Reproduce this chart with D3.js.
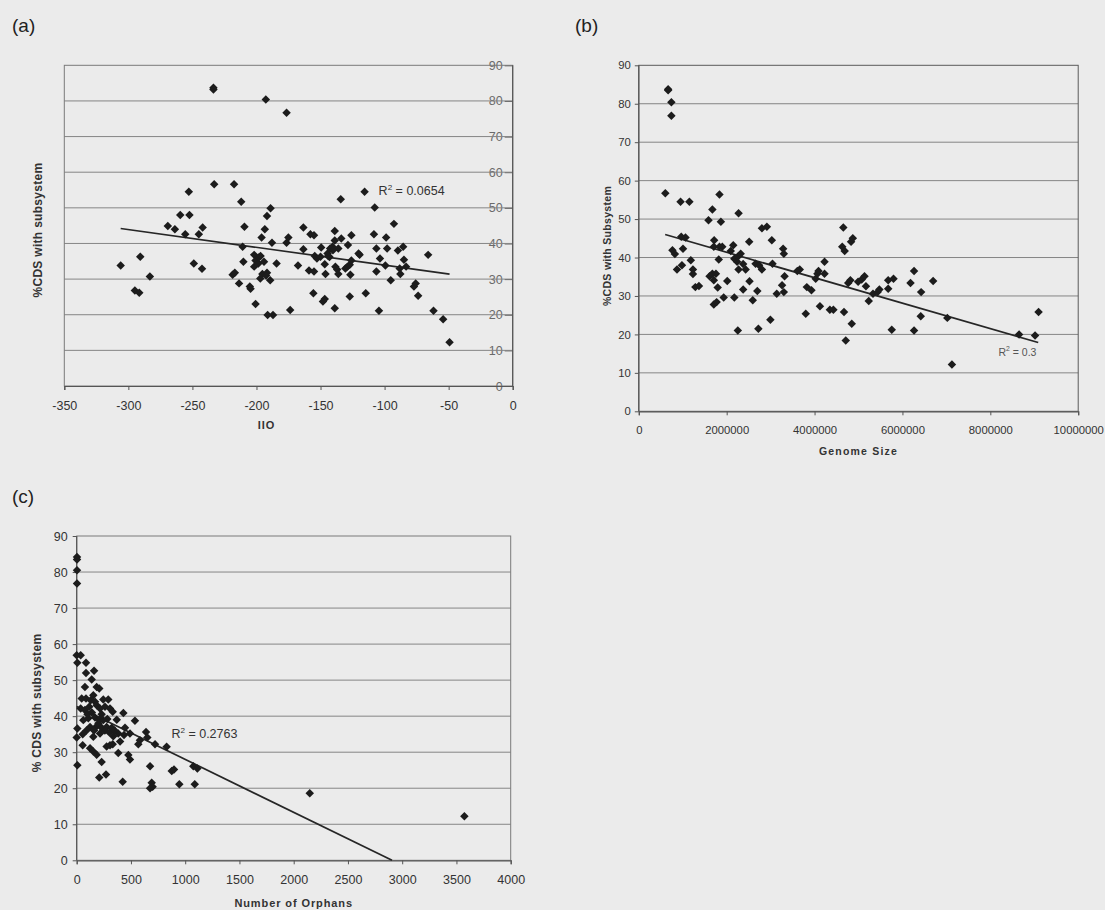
<!DOCTYPE html>
<html>
<head>
<meta charset="utf-8">
<script src="https://cdn.jsdelivr.net/npm/d3@7"></script>
<style>
  html, body { margin: 0; padding: 0; background: #ebebeb; }
  svg { display: block; font-family: "Liberation Sans", Arial, sans-serif; }
  .tick text { fill: #333; }
  .domain { stroke: #555; }
  .tick line { stroke: #555; }
</style>
</head>
<body>
<svg id="fig" width="1105" height="910"></svg>
<script>
// ---- Panel (a): IIO vs %CDS with subsystem ----
const iioX = [-306, -294.9, -291.5, -290.7, -283.2, -269.2, -263.7, -259.5, -255.6, -252.3,
  -252.8, -248.9, -245, -242.5, -242, -233.6, -233.6, -233, -218.6, -216.9,
  -217.5, -211.9, -213.6, -210.8, -210.2, -209.4, -205.2, -204.6, -200.7, -201.8,
  -200.7, -201.8, -198.5, -198, -196.8, -196, -195.4, -193.5, -194.1, -192.7,
  -191.8, -191.8, -191.3, -189, -189.3, -187.9, -187.1, -184.3, -176.5, -176.5,
  -175.1, -173.7, -167.6, -163.4, -163.4, -159, -157.9, -155.6, -155.1, -155.1,
  -154.5, -152.8, -149.5, -148.1, -146.7, -146.7, -146.1, -144.5, -142.5, -140.6,
  -138.9, -138.9, -138.9, -138.4, -137, -136.1, -136.1, -134.2, -130.6, -128.6,
  -127.2, -127.2, -126.7, -125.9, -125.9, -120.3, -119.5, -115.6, -114.7, -108.3,
  -107.7, -106.4, -106.4, -104.4, -103.6, -98.8, -99.4, -98, -95.2, -92.7,
  -89.6, -88.2, -87.7, -85.5, -84.9, -83.2, -77.1, -75.7, -73.8, -66,
  -61.8, -54.3, -49.3, -140.3, -133.8, -129, -143, -150, -144, -197, -192.5];
const iioCds = [33.8, 26.8, 26.2, 36.3, 30.7, 44.9, 44.0, 48.0, 42.6, 48.0,
  54.5, 34.4, 42.6, 32.9, 44.5, 83.7, 83.2, 56.6, 31.2, 31.8,
  56.6, 51.7, 28.8, 39.1, 34.9, 44.7, 27.9, 27.3, 23.0, 36.8,
  35.2, 33.5, 34.4, 36.1, 36.5, 41.7, 31.4, 44.0, 34.9, 80.4,
  47.7, 31.8, 19.9, 49.9, 29.7, 40.2, 19.9, 34.4, 76.7, 40.2,
  41.7, 21.3, 33.8, 44.5, 38.4, 32.4, 42.6, 26.0, 32.1, 42.3,
  36.5, 35.8, 38.9, 23.7, 24.4, 34.2, 31.4, 37.2, 38.6, 39.1,
  43.5, 40.8, 21.8, 33.5, 32.7, 31.4, 38.6, 52.4, 33.0, 39.6,
  25.1, 34.0, 31.2, 42.3, 35.2, 37.2, 36.8, 54.5, 26.0, 42.6,
  50.1, 38.6, 32.1, 21.1, 35.8, 41.7, 33.8, 38.6, 29.7, 45.5,
  38.0, 33.0, 31.4, 39.1, 35.4, 33.5, 27.9, 28.8, 25.3, 36.8,
  21.1, 18.7, 12.3, 38.1, 41.4, 33.5, 36.2, 36.3, 36.5, 30.2, 31.0];
const iioTicks = [-350, -300, -250, -200, -150, -100, -50, 0];
const iioTrend = { x: [-306, -49.3], y: [44.2, 31.4] };
const iioR2 = "0.0654";

// ---- Panel (b): genome size vs %CDS with subsystem ----
const genomeSize = [668000, 668000, 741000, 741000, 604000, 950000, 1151000, 966000, 1063000, 765000,
  821000, 870000, 1006000, 982000, 1184000, 1232000, 1232000, 1288000, 1369000, 1586000,
  1675000, 1715000, 1707000, 1610000, 1675000, 1707000, 1755000, 1795000, 1707000, 1771000,
  1836000, 1868000, 1836000, 1900000, 1820000, 1932000, 2013000, 2093000, 2150000, 2174000,
  2174000, 2238000, 2254000, 2271000, 2271000, 2254000, 2319000, 2375000, 2375000, 2432000,
  2512000, 2520000, 2593000, 2657000, 2697000, 2738000, 2721000, 2802000, 2802000, 2915000,
  2995000, 3027000, 3043000, 3140000, 3261000, 3285000, 3301000, 3301000, 3317000, 3607000,
  3663000, 3800000, 3824000, 3929000, 4026000, 4066000, 4090000, 4122000, 4227000, 4227000,
  4348000, 4428000, 4654000, 4630000, 4686000, 4670000, 4710000, 4766000, 4815000, 4831000,
  4871000, 4847000, 4992000, 5072000, 5137000, 5169000, 5233000, 5330000, 5435000, 5475000,
  5676000, 5676000, 5797000, 5757000, 6184000, 6264000, 6264000, 6417000, 6425000, 6699000,
  7021000, 7126000, 8655000, 9018000, 9098000];
const genomeCds = [83.8, 83.5, 80.4, 76.9, 56.7, 54.5, 54.5, 45.4, 45.2, 41.9,
  40.9, 36.9, 42.3, 38.0, 39.3, 36.9, 35.7, 32.3, 32.6, 49.7,
  52.5, 44.5, 42.8, 35.1, 35.8, 34.1, 35.8, 32.2, 27.8, 28.4,
  56.4, 49.3, 42.8, 42.8, 39.5, 29.6, 33.9, 41.7, 43.2, 39.7,
  29.6, 38.9, 40.2, 51.5, 36.9, 21.0, 41.0, 38.3, 31.7, 36.9,
  44.1, 33.8, 28.9, 38.4, 31.3, 38.0, 21.5, 36.9, 47.6, 48.0,
  23.8, 44.5, 38.4, 30.6, 32.8, 42.3, 41.0, 31.0, 35.1, 36.5,
  36.9, 25.4, 32.3, 31.5, 34.5, 35.8, 36.5, 27.3, 35.8, 38.9,
  26.4, 26.4, 47.8, 42.8, 41.7, 25.8, 18.4, 33.4, 34.1, 44.1,
  45.0, 22.8, 33.7, 34.3, 35.1, 32.5, 28.7, 30.6, 31.0, 31.7,
  34.1, 31.9, 34.5, 21.2, 33.4, 36.5, 21.0, 24.7, 31.0, 33.9,
  24.3, 12.2, 20.0, 19.7, 25.8];
const genomeTicks = [0, 2000000, 4000000, 6000000, 8000000, 10000000];
const genomeTrend = { x: [600000, 9090000], y: [46.0, 17.9] };
const genomeR2 = "0.3";

// ---- Panel (c): number of orphans vs %CDS with subsystem ----
const orphans = [3, 3, 3, 3,
  0, 37, 6, 86, 86, 160, 138, 76, 184, 208,
  46, 86, 153, 129, 169, 245, 291,
  37, 76, 116, 184, 215, 261, 307, 332, 430,
  61, 107, 169, 208, 245, 282, 369, 537,
  6, 123, 184, 230, 276, 323, 445,
  0, 55, 153, 215, 337, 383, 436, 491, 639, 651,
  583, 568, 722, 829,
  55, 123, 153, 184, 276, 307, 332, 383, 476, 491,
  230, 6, 676, 876, 897, 1075, 1112,
  270, 208, 424, 691, 700, 676, 946, 1088,
  100, 140, 200, 230, 260, 300, 350, 400, 160, 90,
  2148, 3573];
const orphanCds = [84.2, 83.5, 80.5, 76.8,
  56.9, 56.9, 54.8, 54.8, 52.0, 52.6, 50.2, 48.1, 48.1, 47.7,
  44.9, 44.9, 45.8, 44.4, 44.0, 44.6, 44.6,
  42.1, 41.7, 42.6, 43.0, 42.1, 42.6, 42.1, 41.2, 40.9,
  38.9, 39.4, 39.6, 39.0, 38.9, 39.2, 39.0, 38.7,
  36.6, 37.0, 37.2, 36.8, 37.0, 36.8, 36.8,
  34.1, 35.0, 34.3, 35.2, 34.4, 35.2, 34.8, 35.2, 35.6, 34.1,
  33.3, 32.2, 32.2, 31.5,
  31.9, 31.1, 30.2, 29.3, 31.6, 31.9, 32.2, 29.8, 29.2, 28.0,
  27.3, 26.4, 26.1, 24.8, 25.2, 26.1, 25.5,
  23.8, 23.0, 21.8, 21.5, 20.4, 20.0, 21.1, 21.1,
  40.5, 41.0, 38.0, 40.5, 36.0, 35.5, 36.0, 33.0, 36.0, 36.0,
  18.6, 12.2];
const orphanTicks = [0, 500, 1000, 1500, 2000, 2500, 3000, 3500, 4000];
const orphanTrend = { x: [0, 2906], y: [42.7, 0] };
const orphanR2 = "0.2763";

const cdsTicks = [0, 10, 20, 30, 40, 50, 60, 70, 80, 90];

const svg = d3.select("#fig");
const FONT = '"Liberation Sans", Arial, sans-serif';
const diamond = d3.symbol().type(d3.symbolSquare).size(36);
const plainNumber = d => String(d);   // keeps the ASCII hyphen for negatives

function drawPanel(cfg) {
  const g = svg.append("g");
  const x = d3.scaleLinear().domain(cfg.xDomain).range([cfg.left, cfg.right]);
  const y = d3.scaleLinear().domain([0, 90]).range([cfg.bottom, cfg.top]);

  // y axis sits where x = 0 (left edge, or right edge when all x are negative)
  const yAxisX = x(Math.max(cfg.xDomain[0], Math.min(0, cfg.xDomain[1])));
  const yAxis = d3.axisLeft(y).tickValues(cdsTicks).tickSize(cfg.yTick).tickPadding(cfg.yPad)
    .tickFormat(plainNumber);

  const drawYAxis = () => {
    const ya = g.append("g").attr("transform", `translate(${yAxisX},0)`).call(yAxis);
    ya.selectAll("text").attr("font-size", cfg.tickFont).attr("font-family", FONT)
      .style("fill", cfg.yLabelColor);
    ya.select(".domain").remove();
    ya.selectAll(".tick line").style("stroke", cfg.axisColor);
  };

  if (cfg.labelsUnderGrid) drawYAxis();

  // horizontal gridlines
  g.append("g").selectAll("line")
    .data(cdsTicks.filter(v => v > 0 && v < 90))
    .join("line")
    .attr("x1", cfg.left).attr("x2", cfg.right)
    .attr("y1", d => y(d)).attr("y2", d => y(d))
    .style("stroke", "#858585").style("stroke-width", 1);

  // plot frame
  g.append("rect")
    .attr("x", cfg.left).attr("y", cfg.top)
    .attr("width", cfg.right - cfg.left).attr("height", cfg.bottom - cfg.top)
    .style("fill", "none").style("stroke", cfg.frameColor).style("stroke-width", 1);

  if (!cfg.labelsUnderGrid) drawYAxis();
  g.append("line").attr("x1", yAxisX).attr("x2", yAxisX)
    .attr("y1", cfg.top).attr("y2", cfg.bottom)
    .style("stroke", cfg.axisColor).style("stroke-width", 1.2);

  // x axis
  const xa = g.append("g").attr("transform", `translate(0,${cfg.bottom})`)
    .call(d3.axisBottom(x).tickValues(cfg.xTicks).tickSize(4).tickPadding(cfg.xPad)
      .tickFormat(plainNumber));
  xa.selectAll("text").attr("font-size", cfg.tickFont).attr("font-family", FONT).style("fill", "#333");
  xa.select(".domain").style("stroke", cfg.axisColor).style("stroke-width", 1.2);
  xa.selectAll(".tick line").style("stroke", cfg.axisColor);

  // trend line
  const trendPts = cfg.trend.x.map((v, i) => [v, cfg.trend.y[i]]);
  g.append("path")
    .datum(trendPts)
    .attr("d", d3.line().x(d => x(d[0])).y(d => y(d[1])))
    .style("fill", "none").style("stroke", "#262626").style("stroke-width", 1.7);

  // markers
  const pts = cfg.xs.map((v, i) => [v, cfg.ys[i]]);
  g.append("g").selectAll("path")
    .data(pts)
    .join("path")
    .attr("d", diamond)
    .attr("transform", d => `translate(${x(d[0])},${y(d[1])}) rotate(45)`)
    .style("fill", "#1c1c1c");

  // R² label
  const r2 = g.append("text")
    .attr("x", cfg.r2Pos[0]).attr("y", cfg.r2Pos[1])
    .attr("dominant-baseline", "middle")
    .attr("font-size", cfg.r2Font).attr("font-family", FONT)
    .style("fill", cfg.r2Color);
  r2.append("tspan").text("R");
  r2.append("tspan").attr("baseline-shift", "super").attr("font-size", cfg.r2Font * 0.65).text("2");
  r2.append("tspan").text(" = " + cfg.r2);

  // axis titles
  g.append("text")
    .attr("x", (cfg.left + cfg.right) / 2 + cfg.xTitleDx).attr("y", cfg.xTitleY)
    .attr("text-anchor", "middle").attr("font-family", FONT).attr("font-weight", "bold")
    .attr("font-size", cfg.titleFont).style("letter-spacing", cfg.xTitleSpacing)
    .style("fill", "#333").text(cfg.xTitle);
  g.append("text")
    .attr("transform", `translate(${cfg.yTitleX},${cfg.yTitleY}) rotate(-90)`)
    .attr("text-anchor", "middle").attr("font-family", FONT).attr("font-weight", "bold")
    .attr("font-size", cfg.yTitleFont).style("letter-spacing", cfg.yTitleSpacing)
    .style("fill", "#333").text(cfg.yTitle);

  // panel letter
  g.append("text")
    .attr("x", cfg.letterPos[0]).attr("y", cfg.letterPos[1])
    .attr("font-family", FONT).attr("font-size", 19).style("fill", "#222")
    .text(cfg.letter);
}

drawPanel({
  letter: "(a)", letterPos: [12, 32],
  xs: iioX, ys: iioCds, xDomain: [-350, 0], xTicks: iioTicks, trend: iioTrend,
  left: 64.3, right: 512.7, top: 65.3, bottom: 386,
  yTick: 8, yPad: 2, xPad: 11, tickFont: 12.5, yLabelColor: "#6a6a6a", labelsUnderGrid: true,
  axisColor: "#555", frameColor: "#7a7a7a",
  r2: iioR2, r2Pos: [378.6, 192], r2Font: 12.5, r2Color: "#333",
  xTitle: "IIO", xTitleY: 429, xTitleDx: -22, titleFont: 11, xTitleSpacing: "1px",
  yTitle: "%CDS with subsystem", yTitleX: 42, yTitleY: 230, yTitleFont: 12, yTitleSpacing: "0.3px"
});

drawPanel({
  letter: "(b)", letterPos: [575, 32],
  xs: genomeSize, ys: genomeCds, xDomain: [0, 10000000], xTicks: genomeTicks, trend: genomeTrend,
  left: 638.8, right: 1078.2, top: 65.3, bottom: 411.3,
  yTick: 4, yPad: 4, xPad: 11, tickFont: 11.3, yLabelColor: "#333", labelsUnderGrid: false,
  axisColor: "#555", frameColor: "#5a5a5a",
  r2: genomeR2, r2Pos: [998.5, 353], r2Font: 10.5, r2Color: "#555",
  xTitle: "Genome Size", xTitleY: 455, xTitleDx: 0, titleFont: 10.5, xTitleSpacing: "1.2px",
  yTitle: "%CDS with Subsystem", yTitleX: 611, yTitleY: 246, yTitleFont: 10.5, yTitleSpacing: "0.3px"
});

drawPanel({
  letter: "(c)", letterPos: [12, 503],
  xs: orphans, ys: orphanCds, xDomain: [0, 4000], xTicks: orphanTicks, trend: orphanTrend,
  left: 76.7, right: 510.7, top: 536, bottom: 860.3,
  yTick: 4, yPad: 5, xPad: 11, tickFont: 12.5, yLabelColor: "#333", labelsUnderGrid: false,
  axisColor: "#555", frameColor: "#7a7a7a",
  r2: orphanR2, r2Pos: [171.4, 735], r2Font: 12.5, r2Color: "#333",
  xTitle: "Number of Orphans", xTitleY: 907, xTitleDx: 0, titleFont: 11, xTitleSpacing: "0.9px",
  yTitle: "% CDS with subsystem", yTitleX: 41, yTitleY: 703, yTitleFont: 12, yTitleSpacing: "0.3px"
});
</script>
</body>
</html>
